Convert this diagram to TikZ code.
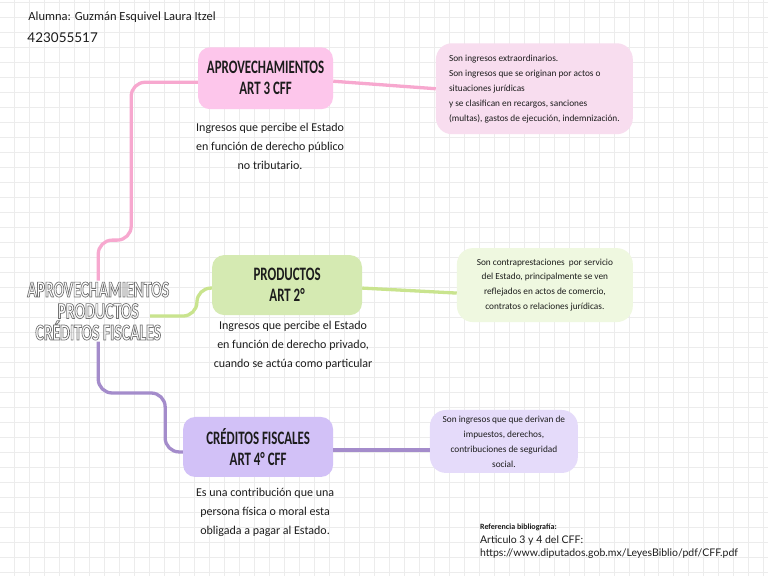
\documentclass[tikz,border=0pt]{standalone}
\usepackage{fontspec}
\setmainfont{Carlito}
\newfontfamily\titlefont[FakeStretch=0.68]{Carlito}
\newfontfamily\reffont{Lato}
\newcommand{\hueco}{\special{pdf:literal direct 1 Tr}}
\newcommand{\lleno}{\special{pdf:literal direct 0 Tr}}
\definecolor{gridgray}{HTML}{ECECEC}
\definecolor{rosaline}{HTML}{F7A8CF}
\definecolor{rosabox}{HTML}{FDC6EB}
\definecolor{rosainfo}{HTML}{F8DDEF}
\definecolor{verdeline}{HTML}{C9E48E}
\definecolor{verdebox}{HTML}{D5EAB2}
\definecolor{verdeinfo}{HTML}{EFF8E0}
\definecolor{moradoline}{HTML}{A48CCB}
\definecolor{moradobox}{HTML}{D2C1F7}
\definecolor{moradoinfo}{HTML}{E5DBFA}
\definecolor{tinta}{HTML}{1C1C1C}
\begin{document}
\begin{tikzpicture}[x=1pt,y=-1pt,
  titlebox/.style={rounded corners=12pt, align=center, text=tinta,
    font=\titlefont\bfseries\fontsize{19}{21}\selectfont},
  infobox/.style={rounded corners=16pt, text=tinta,
    font=\fontsize{9.3}{15}\selectfont},
  desc/.style={align=center, inner sep=0pt, text=tinta,
    font=\fontsize{12}{19}\selectfont},
  branch/.style={line width=3.3pt, rounded corners=14pt}]
\fill[white] (0,0) rectangle (768,576);
\foreach \gx in {14,29,...,764}
  \draw[gridgray, line width=0.6pt] (\gx,0) -- (\gx,576);
\foreach \gy in {2,17,...,572}
  \draw[gridgray, line width=0.6pt] (0,\gy) -- (768,\gy);
\useasboundingbox (0,0) rectangle (768,576);
% encabezado
\node[anchor=west, inner sep=0pt, text=tinta, font=\fontsize{12.5}{13}\selectfont] (alumna) at (28,17) {Alumna: Guzmán Esquivel Laura Itzel};
\node[anchor=west, inner sep=0pt, text=tinta, font=\reffont\fontsize{13.5}{14}\selectfont] (cuenta) at (27,37) {423055517};
% centro
\node[align=center, inner sep=1pt, line width=0.7pt, text=black!55, font=\titlefont\bfseries\fontsize{23}{21.5}\selectfont] (root) at (98,311)
  {\hueco APROVECHAMIENTOS\\ PRODUCTOS\\ CRÉDITOS FISCALES\lleno};
\coordinate (rootright) at (150,316);
% temas
\node[titlebox, fill=rosabox, minimum width=135pt, minimum height=62pt] (aprov) at (265.5,78) {APROVECHAMIENTOS\\ ART 3 CFF};
\node[titlebox, fill=verdebox, minimum width=150pt, minimum height=60pt] (prod) at (287,285) {PRODUCTOS\\ ART 2°};
\node[titlebox, fill=moradobox, minimum width=150pt, minimum height=60pt] (cred) at (258,447) {CRÉDITOS FISCALES\\ ART 4° CFF};
% descripciones
\node[desc] (aprovdesc) at (270,146) {Ingresos que percibe el Estado\\ en función de derecho público\\ no tributario.};
\node[desc] (proddesc) at (293,345) {Ingresos que percibe el Estado\\ en función de derecho privado,\\ cuando se actúa como particular};
\node[desc] (creddesc) at (265,512) {Es una contribución que una\\ persona física o moral esta\\ obligada a pagar al Estado.};
% notas
\node[infobox, fill=rosainfo, align=left, minimum width=197pt, minimum height=91pt] (aprovinfo) at (534.5,88.5)
  {Son ingresos extraordinarios.\\ Son ingresos que se originan por actos o\\ situaciones jurídicas\\ y se clasifican en recargos, sanciones\\ (multas), gastos de ejecución, indemnización.};
\node[infobox, fill=verdeinfo, align=center, minimum width=176pt, minimum height=74pt] (prodinfo) at (545,285)
  {Son contraprestaciones\ \ por servicio\\ del Estado, principalmente se ven\\ reflejados en actos de comercio,\\ contratos o relaciones jurídicas.};
\node[infobox, fill=moradoinfo, align=center, minimum width=148pt, minimum height=63pt] (credinfo) at (504,441.5)
  {Son ingresos que que derivan de\\ impuestos, derechos,\\ contribuciones de seguridad\\ social.};
% ramas
\draw[branch, rosaline] (root.north) |- (131,240) |- ([yshift=-4pt]aprov.west);
\draw[branch, verdeline] (rootright) -| ([xshift=-15pt,yshift=-3pt]prod.west) -- ([yshift=-3pt]prod.west);
\draw[branch, moradoline] (root.south) |- (165,393) |- ([yshift=-5pt]cred.west);
\draw[branch, rosaline] ([yshift=-3pt]aprov.east) -- (aprovinfo.west);
\draw[branch, verdeline] ([yshift=-3pt]prod.east) -- ([yshift=-8pt]prodinfo.west);
\draw[branch, moradoline] ([yshift=-3pt]cred.east) -- ([yshift=-3pt]cred.east -| credinfo.west);
% referencia
\node[anchor=west, inner sep=0pt, text=tinta, font=\bfseries\fontsize{8}{9}\selectfont] (refer) at (480,527) {Referencia bibliografía:};
\node[anchor=west, inner sep=0pt, text=tinta, font=\reffont\fontsize{10.5}{12}\selectfont] (articulo) at (480,541) {Articulo 3 y 4 del CFF:};
\node[anchor=west, inner sep=0pt, text=tinta, font=\reffont\fontsize{10.5}{12}\selectfont] (url) at (480,554) {https://www.diputados.gob.mx/LeyesBiblio/pdf/CFF.pdf};
\end{tikzpicture}
\end{document}
